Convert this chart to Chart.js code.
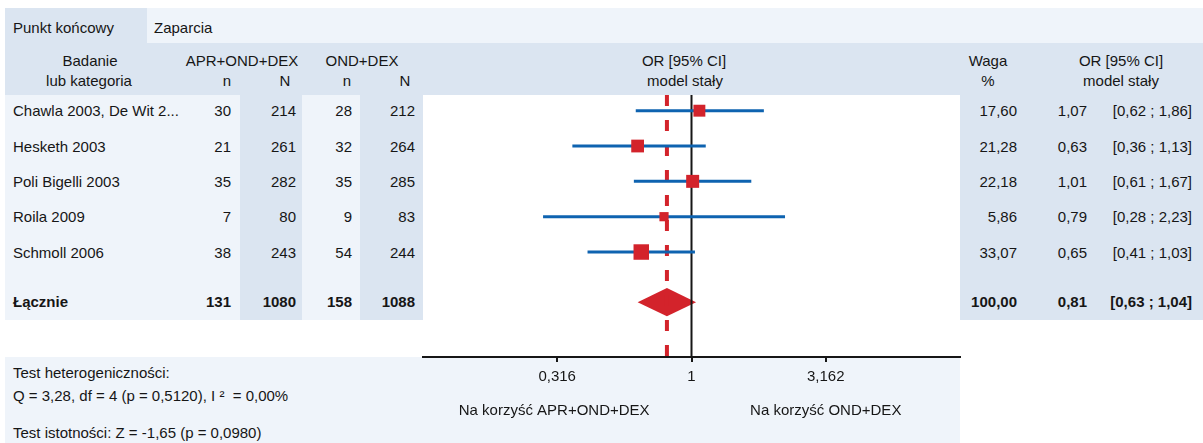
<!DOCTYPE html>
<html lang="pl">
<head>
<meta charset="utf-8">
<title>Zaparcia – OR, model stały</title>
<script src="https://cdn.jsdelivr.net/npm/chart.js@4.4.1/dist/chart.umd.min.js"></script>
<style>
  html, body { margin: 0; padding: 0; background: #fff; }
  #strona {
    position: relative; width: 1203px; height: 443px; overflow: hidden;
    font-family: 'Liberation Sans', Arial, sans-serif; font-size: 15px; color: #161616;
  }
  .tlo { position: absolute; }
  .txt { position: absolute; white-space: pre; line-height: 18px; height: 18px; }
  .b { font-weight: bold; }
  #wykres { position: absolute; left: 0; top: 0; z-index: 2; }
</style>
</head>
<body>
<div id="strona"><canvas id="wykres" width="1203" height="443"></canvas></div>
<script>
// Badania włączone do metaanalizy
const badania = ['Chawla 2003, De Wit 2...', 'Hesketh 2003', 'Poli Bigelli 2003', 'Roila 2009', 'Schmoll 2006'];
const nApr = [30, 21, 35, 7, 38];
const NApr = [214, 261, 282, 80, 243];
const nOnd = [28, 32, 35, 9, 54];
const NOnd = [212, 264, 285, 83, 244];
const wagi = [17.60, 21.28, 22.18, 5.86, 33.07];
const orWartosci = [1.07, 0.63, 1.01, 0.79, 0.65];
const ciDolne = [0.62, 0.36, 0.61, 0.28, 0.41];
const ciGorne = [1.86, 1.13, 1.67, 2.23, 1.03];

// Wynik łączny
const sumy = [131, 1080, 158, 1088];
const wagaLaczna = 100.00;
const orLaczny = 0.81;
const ciLaczneDolne = 0.63;
const ciLaczneGorne = 1.04;

// Oś OR
const osTicki = [0.316, 1, 3.162];
const opisyOsi = ['Na korzyść APR+OND+DEX', 'Na korzyść OND+DEX'];

const testy = [
  'Test heterogeniczności:',
  'Q = 3,28, df = 4 (p = 0,5120), I ²  = 0,00%',
  'Test istotności: Z = -1,65 (p = 0,0980)'
];

const NIEBIESKI = '#dbe5f1';
const JASNY = '#eff4fa';
const CZERWONY = '#d3232b';
const GRANAT = '#0e63b0';
const CZARNY = '#161616';
const FONT = "'Liberation Sans', Arial, sans-serif";

const Y_MIN = -0.444, Y_MAX = 6.971;
const pozycjaLaczna = badania.length + 0.42;

const strona = document.getElementById('strona');

function pl(v, d) {
  return v.toFixed(d).replace('.', ',');
}

function tlo(x, y, w, h, kolor) {
  const el = document.createElement('div');
  el.className = 'tlo';
  Object.assign(el.style, { left: x + 'px', top: y + 'px', width: w + 'px', height: h + 'px', background: kolor });
  strona.appendChild(el);
}

// x – punkt zaczepienia, y – środek wiersza
function tekst(t, x, y, wyr, pogrubiony) {
  const el = document.createElement('div');
  el.className = 'txt' + (pogrubiony ? ' b' : '');
  el.textContent = t;
  el.style.top = (y - 9) + 'px';
  if (wyr === 'right') {
    el.style.right = (1203 - x) + 'px';
  } else if (wyr === 'center') {
    el.style.left = x + 'px';
    el.style.transform = 'translateX(-50%)';
  } else {
    el.style.left = x + 'px';
  }
  strona.appendChild(el);
}

// tła tabeli
tlo(5, 8, 142, 35, NIEBIESKI);
tlo(147, 8, 1056, 35, JASNY);
tlo(5, 43, 1198, 52, NIEBIESKI);
tlo(5, 95, 235, 225, JASNY);
tlo(240, 95, 62, 225, NIEBIESKI);
tlo(302, 95, 58, 225, JASNY);
tlo(360, 95, 63, 225, NIEBIESKI);
tlo(960, 95, 243, 225, NIEBIESKI);
tlo(5, 357, 955, 86, JASNY);

// romb wyniku łącznego i opisy pod osią
const dodatki = {
  id: 'dodatki',
  beforeDatasetsDraw(chart) {
    const { ctx, scales: { x, y } } = chart;
    const yc = y.getPixelForValue(pozycjaLaczna);
    const h = y.getPixelForValue(pozycjaLaczna + 0.4) - yc;
    ctx.save();
    ctx.fillStyle = CZERWONY;
    ctx.beginPath();
    ctx.moveTo(x.getPixelForValue(ciLaczneDolne), yc);
    ctx.lineTo(x.getPixelForValue(orLaczny), yc - h);
    ctx.lineTo(x.getPixelForValue(ciLaczneGorne), yc);
    ctx.lineTo(x.getPixelForValue(orLaczny), yc + h);
    ctx.closePath();
    ctx.fill();
    ctx.restore();
  },
  afterDraw(chart) {
    const { ctx, chartArea, scales: { x } } = chart;
    ctx.save();
    ctx.font = '15px ' + FONT;
    ctx.fillStyle = CZARNY;
    ctx.textAlign = 'center';
    ctx.textBaseline = 'middle';
    ctx.fillText(opisyOsi[0], x.getPixelForValue(osTicki[0]) - 3, chartArea.bottom + 54);
    ctx.fillText(opisyOsi[1], x.getPixelForValue(osTicki[2]), chartArea.bottom + 54);
    ctx.restore();
  }
};

const liniePrzedzialow = badania.map((b, i) => ({
  label: b,
  type: 'line',
  data: [{ x: ciDolne[i], y: i }, { x: ciGorne[i], y: i }],
  borderColor: GRANAT,
  borderWidth: 3,
  borderCapStyle: 'butt',
  pointRadius: 0,
  order: 1
}));

const wykres = new Chart(document.getElementById('wykres'), {
  type: 'scatter',
  data: {
    datasets: [
      {
        label: 'OR',
        data: badania.map((b, i) => ({ x: orWartosci[i], y: i })),
        pointStyle: 'rect',
        // bok kwadratu rośnie z wagą badania
        pointRadius: ctx => (7.84 + 0.2315 * wagi[ctx.dataIndex]) / Math.SQRT2,
        backgroundColor: CZERWONY,
        borderWidth: 0,
        order: 0
      },
      ...liniePrzedzialow,
      {
        label: 'OR łączny',
        type: 'line',
        data: [{ x: orLaczny, y: Y_MIN }, { x: orLaczny, y: Y_MAX }],
        borderColor: CZERWONY,
        borderWidth: 4,
        borderDash: [11, 14],
        borderCapStyle: 'butt',
        pointRadius: 0,
        order: 2
      },
      {
        label: 'OR = 1',
        type: 'line',
        data: [{ x: 1, y: Y_MIN }, { x: 1, y: Y_MAX }],
        borderColor: CZARNY,
        borderWidth: 2,
        pointRadius: 0,
        order: 3
      }
    ]
  },
  options: {
    responsive: false,
    animation: false,
    events: [],
    layout: { padding: { left: 423, right: 243, top: 95, bottom: 0 } },
    plugins: { legend: { display: false }, tooltip: { enabled: false } },
    scales: {
      x: {
        type: 'logarithmic',
        min: 0.1,
        max: 10,
        afterBuildTicks: scale => { scale.ticks = osTicki.map(v => ({ value: v })); },
        afterFit: scale => { scale.height = 86; },
        ticks: {
          autoSkip: false,
          maxRotation: 0,
          padding: 6,
          color: CZARNY,
          font: { family: FONT, size: 15 },
          callback: v => String(v).replace('.', ',')
        },
        grid: { drawOnChartArea: false, drawTicks: true, tickLength: 5, color: CZARNY, lineWidth: 2 },
        border: { display: true, color: CZARNY, width: 2 }
      },
      y: {
        type: 'linear',
        reverse: true,
        min: Y_MIN,
        max: Y_MAX,
        display: false
      }
    }
  },
  plugins: [dodatki]
});

// nagłówki
tekst('Punkt końcowy', 13, 28);
tekst('Zaparcia', 154, 28);
tekst('Badanie', 90, 60.5, 'center');
tekst('lub kategoria', 89, 81, 'center');
tekst('APR+OND+DEX', 242, 60.5, 'center');
tekst('OND+DEX', 362, 60.5, 'center');
tekst('n', 227, 81, 'center');
tekst('N', 285, 81, 'center');
tekst('n', 347, 81, 'center');
tekst('N', 405, 81, 'center');
tekst('OR [95% CI]', 684, 60.5, 'center');
tekst('model stały', 685, 81, 'center');
tekst('Waga', 988, 60.5, 'center');
tekst('%', 988, 81, 'center');
tekst('OR [95% CI]', 1121, 60.5, 'center');
tekst('model stały', 1121, 81, 'center');

// wiersze badań – pozycje z osi Y wykresu
const osY = wykres.scales.y;
badania.forEach((b, i) => {
  const y = osY.getPixelForValue(i) + 0.5;
  tekst(b, 13, y);
  tekst(String(nApr[i]), 231, y, 'right');
  tekst(String(NApr[i]), 296, y, 'right');
  tekst(String(nOnd[i]), 352, y, 'right');
  tekst(String(NOnd[i]), 415, y, 'right');
  tekst(pl(wagi[i], 2), 1017, y, 'right');
  tekst(pl(orWartosci[i], 2), 1087, y, 'right');
  tekst('[' + pl(ciDolne[i], 2) + ' ; ' + pl(ciGorne[i], 2) + ']', 1192, y, 'right');
});

const yL = osY.getPixelForValue(pozycjaLaczna);
tekst('Łącznie', 13, yL, 'left', true);
tekst(String(sumy[0]), 231, yL, 'right', true);
tekst(String(sumy[1]), 296, yL, 'right', true);
tekst(String(sumy[2]), 352, yL, 'right', true);
tekst(String(sumy[3]), 415, yL, 'right', true);
tekst(pl(wagaLaczna, 2), 1017, yL, 'right', true);
tekst(pl(orLaczny, 2), 1087, yL, 'right', true);
tekst('[' + pl(ciLaczneDolne, 2) + ' ; ' + pl(ciLaczneGorne, 2) + ']', 1192, yL, 'right', true);

// testy statystyczne
tekst(testy[0], 13, 373);
tekst(testy[1], 13, 396);
tekst(testy[2], 13, 432.5);
</script>
</body>
</html>
